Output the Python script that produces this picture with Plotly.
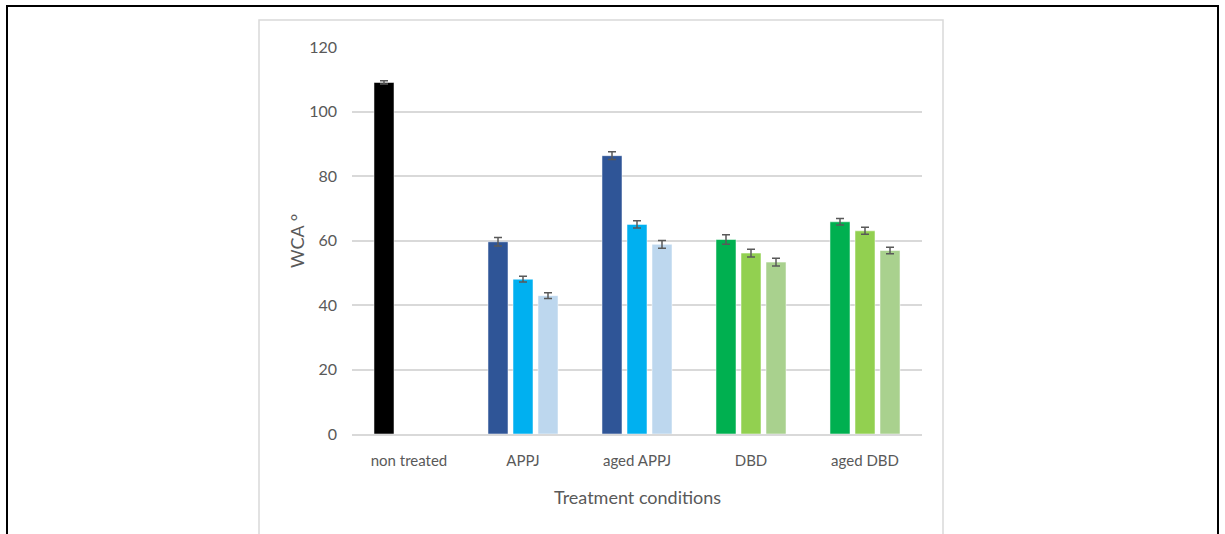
import plotly.graph_objects as go

categories = ["non treated", "APPJ", "aged APPJ", "DBD", "aged DBD"]
series1 = [109, 59.6, 86.3, 60.3, 65.8]
series2 = [None, 48.0, 65.0, 56.1, 63.0]
series3 = [None, 42.9, 58.8, 53.3, 56.9]
err1 = [0.5, 1.3, 1.2, 1.5, 1.0]
err2 = [0, 0.9, 1.1, 1.2, 1.1]
err3 = [0, 0.9, 1.2, 1.2, 1.0]
colors1 = ["#000000", "#2F5597", "#2F5597", "#00B050", "#00B050"]
colors2 = ["#000000", "#00B0F0", "#00B0F0", "#92D050", "#92D050"]
colors3 = ["#000000", "#BDD7EE", "#BDD7EE", "#A9D18E", "#A9D18E"]

W, H = 1225, 534
L, R, T, B = 352, 922, 47, 434

fig = go.Figure()
for vals, errs, cols in [(series1, err1, colors1), (series2, err2, colors2), (series3, err3, colors3)]:
    fig.add_trace(go.Bar(
        x=categories, y=vals,
        marker=dict(color=cols, line=dict(color="rgba(255,255,255,0.5)", width=1)),
        error_y=dict(type="data", array=errs, color="#595959", thickness=1.5, width=4),
        showlegend=False,
    ))

def px_x(p):
    return (p - L) / (R - L)

def px_y(p):
    return (B - p) / (B - T)

shapes = [
    dict(type="path", xref="paper", yref="paper",
         path=f"M {px_x(7)} {px_y(560)} L {px_x(7)} {px_y(6)} L {px_x(1218)} {px_y(6)} L {px_x(1218)} {px_y(560)}",
         line=dict(color="black", width=2)),
    dict(type="path", xref="paper", yref="paper",
         path=f"M {px_x(259)} {px_y(560)} L {px_x(259)} {px_y(20)} L {px_x(943)} {px_y(20)} L {px_x(943)} {px_y(560)}",
         line=dict(color="#D9D9D9", width=1.5)),
]

font_family = "Lato, 'Open Sans', sans-serif"

fig.update_layout(
    width=W, height=H,
    margin=dict(l=L, r=W - R, t=T, b=H - B, pad=0),
    paper_bgcolor="white", plot_bgcolor="white",
    barmode="group", bargap=0.342, bargroupgap=0.2,
    font=dict(family=font_family, color="#595959", size=15),
    shapes=shapes,
    annotations=[
        dict(text="WCA °", xref="paper", yref="paper", x=px_x(297), y=px_y(241),
             textangle=-90, showarrow=False, font=dict(size=18, color="#595959"),
             xanchor="center", yanchor="middle"),
        dict(text="Treatment conditions", xref="paper", yref="paper", x=px_x(637), y=px_y(497),
             showarrow=False, font=dict(size=18, color="#595959"),
             xanchor="center", yanchor="middle"),
    ],
    xaxis=dict(showgrid=False, showline=True, linecolor="#D9D9D9", linewidth=1.5,
               ticks="", tickfont=dict(size=15, color="#595959"), ticklabelstandoff=12,
               fixedrange=True),
    yaxis=dict(range=[0, 120], tickvals=[0, 20, 40, 60, 80, 100, 120],
               showgrid=True, gridcolor="#D9D9D9", gridwidth=1.5, zeroline=False,
               showline=False, ticks="", tickfont=dict(size=16, color="#595959"),
               ticklabelstandoff=14),
)

fig.write_html("out.html", config={"displayModeBar": False},
               post_script="document.body.style.margin='0';document.body.style.overflow='hidden';")
